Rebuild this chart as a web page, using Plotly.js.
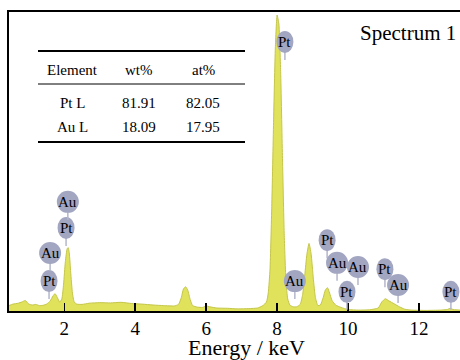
<!DOCTYPE html>
<html>
<head>
<meta charset="utf-8">
<script src="https://cdn.plot.ly/plotly-3.0.1.min.js"></script>
<style>
html,body{margin:0;padding:0;background:#fff;overflow:hidden;width:460px;height:360px;}
#chart{width:484px;height:360px;}
</style>
</head>
<body>
<div id="chart"></div>
<script>
// ---- data ----
const energy = [0.44,0.55,0.7,0.8,0.9,1.0,1.1,1.2,1.3,1.4,1.5,1.6,1.68,1.74,1.8,1.87,1.93,1.98,2.03,2.08,2.11,2.14,2.18,2.23,2.28,2.35,2.5,2.7,3.0,3.3,3.6,3.9,4.2,4.5,4.8,5.1,5.22,5.3,5.36,5.42,5.48,5.55,5.62,5.75,5.9,6.0,6.1,6.3,6.6,6.9,7.2,7.45,7.6,7.7,7.75,7.8,7.85,7.9,7.95,8.0,8.05,8.1,8.15,8.2,8.25,8.3,8.36,8.45,8.55,8.65,8.72,8.78,8.84,8.9,8.96,9.02,9.08,9.15,9.22,9.3,9.36,9.42,9.48,9.55,9.65,9.8,10.0,10.3,10.6,10.85,10.95,11.05,11.15,11.3,11.45,11.6,11.8,12.2,12.6,12.8,12.88,12.96,13.2,13.5,13.83];
const counts = [1.8,2.3,2.6,3.0,3.5,2.3,2.0,2.2,1.8,1.9,2.3,3.3,5.0,5.8,4.6,3.0,4.0,9.0,16.5,20.8,21.2,19.5,13.0,6.0,3.0,2.3,2.2,2.6,2.8,2.7,2.9,2.5,2.3,2.0,1.8,1.7,2.2,4.5,7.4,8.1,7.0,3.8,1.8,1.3,1.2,1.7,1.4,1.0,0.9,0.7,0.8,1.0,1.8,3.0,6,14,35,63,88,99,96,80,52,26,10,4.0,2.0,1.4,1.4,2.2,5.5,12,19,22.6,19,11,4.5,1.8,2.0,4.5,7.0,7.8,6.0,3.5,2.0,1.2,0.5,0.3,0.4,1.0,3.0,4.1,3.4,2.4,1.4,0.6,0.3,0.2,0.3,0.5,0.9,0.5,0.3,0.3,0.3];

const tickValues = [2,4,6,8,10,12];
const tickLabels = ['2','4','6','8','10','12'];

const labelText   = ['Pt','Au','Pt','Au','Pt','Au','Pt','Au','Au','Pt','Pt','Au','Pt'];
const labelEnergy = [1.57,1.60,2.05,2.10,8.22,8.50,9.41,9.69,10.28,9.97,11.04,11.41,12.90];
const labelHeight = [10.0,19.4,27.8,36.5,90.0,10.0,23.7,16.1,14.7,6.4,14.0,8.7,6.4];

const tableHeader = ['Element','wt%','at%'];
const tableElements = ['Pt L','Au L'];
const tableWt = [81.91,18.09];
const tableAt = [82.05,17.95];

const spectrumName = 'Spectrum 1';
const xTitle = 'Energy / keV';

// ---- layout helpers (pixel -> paper) ----
const W = 484, H = 360, ML = 9, MR = 0, MT = 12, MB = 49;
const PW = W - ML - MR, PH = H - MT - MB;
const px = x => (x - ML) / PW;
const py = y => (H - MB - y) / PH;
const FONT = '"Liberation Serif", "Times New Roman", Times, serif';

const shapes = [];
const annotations = [];

// element marker labels
for (let i = 0; i < labelText.length; i++) {
  const w = labelText[i] === 'Au' ? 22 : 17;
  shapes.push({type:'line', xref:'x', yref:'y', xsizemode:'pixel', ysizemode:'pixel',
    xanchor: labelEnergy[i], yanchor: labelHeight[i], x0:0, x1:0, y0:-9, y1:-18,
    line:{color:'#b4b7cc', width:1.5}, layer:'above'});
  shapes.push({type:'circle', xref:'x', yref:'y', xsizemode:'pixel', ysizemode:'pixel',
    xanchor: labelEnergy[i], yanchor: labelHeight[i], x0:-w/2, x1:w/2, y0:-11, y1:11,
    fillcolor:'#a2a6c1', line:{width:0}, layer:'above'});
  annotations.push({x: labelEnergy[i], y: labelHeight[i], xref:'x', yref:'y',
    xanchor:'center', yanchor:'middle',
    text: labelText[i], showarrow:false, font:{family:FONT, size:15, color:'#000'}});
}

// table lines
shapes.push({type:'line', xref:'paper', yref:'paper', x0:px(38), x1:px(245), y0:py(51), y1:py(51), line:{color:'#000', width:2}});
shapes.push({type:'line', xref:'paper', yref:'paper', x0:px(38), x1:px(245), y0:py(84), y1:py(84), line:{color:'#000', width:1}});
shapes.push({type:'line', xref:'paper', yref:'paper', x0:px(38), x1:px(245), y0:py(142), y1:py(142), line:{color:'#000', width:2}});

const colX = [72, 139, 203];
tableHeader.forEach((t, j) => annotations.push({xref:'paper', yref:'paper', x:px(colX[j]), y:py(70),
  xanchor:'center', yanchor:'middle',
  text:t, showarrow:false, font:{family:FONT, size:15, color:'#000'}}));
const rowY = [103, 127];
tableElements.forEach((el, r) => {
  const cells = [el, tableWt[r].toFixed(2), tableAt[r].toFixed(2)];
  cells.forEach((t, j) => annotations.push({xref:'paper', yref:'paper', x:px(colX[j]), y:py(rowY[r]),
    xanchor:'center', yanchor:'middle',
    text:t, showarrow:false, font:{family:FONT, size:15, color:'#000'}}));
});

annotations.push({xref:'paper', yref:'paper', x:px(408), y:py(33), text:spectrumName,
  xanchor:'center', yanchor:'middle',
  showarrow:false, font:{family:FONT, size:21, color:'#000'}});

const trace = {
  x: energy, y: counts, type:'scatter', mode:'lines',
  line:{color:'#c4c64a', width:1, shape:'spline', smoothing:0.5},
  fill:'tozeroy', fillcolor:'#e0e25c', hoverinfo:'skip'
};

const layout = {
  width:W, height:H,
  margin:{l:ML, r:MR, t:MT, b:MB, pad:0},
  paper_bgcolor:'#fff', plot_bgcolor:'#fff',
  showlegend:false,
  font:{family:FONT, color:'#000'},
  xaxis:{
    range:[0.441, 13.833], showgrid:false, zeroline:false,
    showline:true, linecolor:'#000', linewidth:2, mirror:true,
    ticks:'inside', ticklen:8, tickwidth:1.5, tickcolor:'#000',
    tickvals:tickValues, ticktext:tickLabels, ticklabelstandoff:-1,
    tickfont:{family:FONT, size:19, color:'#000'},
    title:{text:xTitle, font:{family:FONT, size:22, color:'#000'}, standoff:10}
  },
  yaxis:{
    range:[0, 100], showgrid:false, zeroline:false,
    showline:true, linecolor:'#000', linewidth:2, mirror:false,
    ticks:'', showticklabels:false
  },
  shapes: shapes,
  annotations: annotations
};

Plotly.newPlot('chart', [trace], layout, {staticPlot:true, displayModeBar:false});
</script>
</body>
</html>
